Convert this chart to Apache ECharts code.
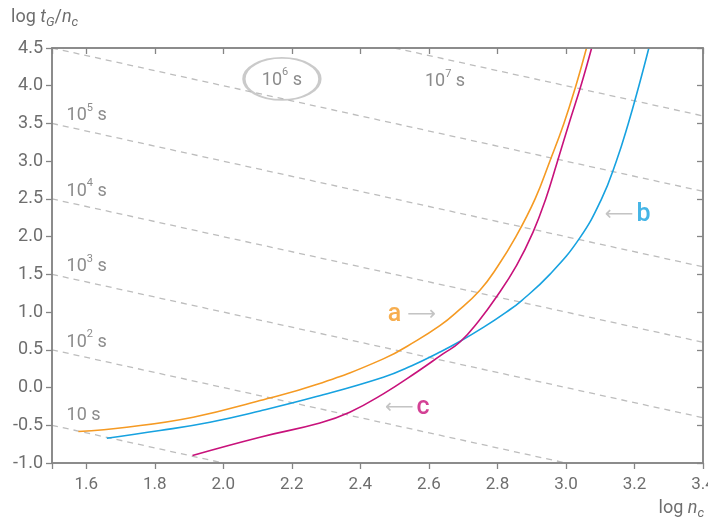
<!DOCTYPE html>
<html>
<head>
<meta charset="utf-8">
<script src="https://cdn.jsdelivr.net/npm/echarts@6/dist/echarts.min.js"></script>
<style>
html,body{margin:0;padding:0;background:#fff;}
#chart{width:708px;height:520px;}
</style>
</head>
<body>
<div id="chart"></div>
<script>
// ---- data ----
const xTickVals = [1.5, 1.6, 1.8, 2.0, 2.2, 2.4, 2.6, 2.8, 3.0, 3.2, 3.4];
const xLabelVals = [1.6, 1.8, 2.0, 2.2, 2.4, 2.6, 2.8, 3.0, 3.2, 3.4];

const curveA = [[1.577,-0.583],[1.718,-0.526],[1.912,-0.393],[2.107,-0.172],[2.272,0.04],[2.467,0.38],[2.564,0.622],[2.632,0.82],[2.681,1.0],[2.749,1.29],[2.80,1.60],[2.854,2.0],[2.91,2.5],[2.953,3.0],[2.994,3.5],[3.029,4.0],[3.060,4.5]];
const curveB = [[1.660,-0.671],[1.815,-0.570],[1.961,-0.459],[2.107,-0.31],[2.272,-0.12],[2.467,0.137],[2.55,0.29],[2.632,0.47],[2.690,0.61],[2.76,0.80],[2.826,1.0],[2.870,1.15],[2.953,1.5],[3.040,1.98],[3.104,2.5],[3.147,3.0],[3.182,3.5],[3.213,4.0],[3.242,4.5]];
const curveC = [[1.910,-0.90],[2.107,-0.658],[2.282,-0.47],[2.369,-0.327],[2.467,-0.084],[2.564,0.203],[2.641,0.446],[2.690,0.60],[2.745,0.88],[2.797,1.20],[2.856,1.62],[2.904,2.06],[2.941,2.5],[2.974,2.98],[3.009,3.5],[3.045,4.02],[3.075,4.5]];

// isochrone lines (t = 10 s ... 10^7 s), endpoints clipped to the frame
const iso10 = [[1.5,-0.5],[2.0,-1.0]];
const iso100 = [[1.5,0.5],[3.0,-1.0]];
const iso1e3 = [[1.5,1.5],[3.4,-0.4]];
const iso1e4 = [[1.5,2.5],[3.4,0.6]];
const iso1e5 = [[1.5,3.5],[3.4,1.6]];
const iso1e6 = [[1.5,4.5],[3.4,2.6]];
const iso1e7 = [[2.5,4.5],[3.4,3.6]];

// isochrone labels
const isoLabelBase = ['10', '10', '10', '10', '10', '10', '10'];
const isoLabelExp = ['', '2', '3', '4', '5', '6', '7'];
const isoLabelPos = [[1.541,-0.34],[1.541,0.63],[1.541,1.63],[1.541,2.63],[1.541,3.63],[2.171,4.10],[2.647,4.08]];
const ellipsePos = [[2.171, 4.09]];

// curve labels
const curveNames = ['a', 'b', 'c'];
const curveLabelPos = [[2.55, 0.97], [3.180, 2.29], [2.537, -0.265]];

// ---- styling ----
const cA = '#f59a23', cB = '#17a2e0', cC = '#c8127b';
const txt = '#6e6e6e';
const axisCol = '#858585';
const font = 'Roboto, "Liberation Sans", sans-serif';

function isoSeries(data) {
  return {
    type: 'line', data: data, symbol: 'none', silent: true, z: 1,
    lineStyle: { color: '#bdbdbd', width: 1.3, type: [6, 5] }
  };
}
function curveSeries(data, color) {
  return {
    type: 'line', data: data, symbol: 'none', smooth: 0.45, z: 3,
    lineStyle: { color: color, width: 1.6 }
  };
}

const isoLabelData = isoLabelPos.map((p, i) => ({
  value: p,
  label: {
    formatter: '{m|' + isoLabelBase[i] + '}' + (isoLabelExp[i] ? '{s|' + isoLabelExp[i] + '}' : '') + '{m| s}',
    position: i >= 5 ? 'inside' : 'right',
    distance: 0
  }
}));

const curveColors = [cA, cB, cC];
const curveLabelData = curveLabelPos.map((p, i) => ({
  value: p,
  label: {
    formatter: i === 0 ? '{l|' + curveNames[i] + '}{ar|⟶}' : '{ar|⟵}{l|' + curveNames[i] + '}',
    rich: {
      l: { fontFamily: font, fontSize: 25, fontWeight: 500, color: curveColors[i], verticalAlign: 'middle' },
      ar: { fontFamily: '"DejaVu Sans", sans-serif', fontSize: 20, color: '#b5b5b5', verticalAlign: 'middle',
            padding: i === 0 ? [0, 0, 0, 6] : [0, 3, 0, 0] }
    }
  }
}));

function axisLine() { return { show: true, onZero: false, lineStyle: { color: axisCol, width: 1.5 } }; }
function tickStyle() { return { color: axisCol, width: 1.3 }; }

const option = {
  animation: false,
  grid: { left: 52, right: 5, top: 48, bottom: 57, outerBoundsMode: 'none', containLabel: false,
          show: true, z: 6, borderColor: axisCol, borderWidth: 1.5, backgroundColor: 'transparent' },
  xAxis: [{
    type: 'value', min: 1.5, max: 3.4, position: 'bottom', z: 6,
    axisLine: axisLine(),
    axisTick: { show: true, customValues: xTickVals, length: 6, lineStyle: tickStyle() },
    axisLabel: { customValues: xLabelVals, formatter: v => v.toFixed(1), color: txt, fontSize: 17, fontFamily: font, margin: 13 },
    splitLine: { show: false }
  }, {
    type: 'value', min: 1.5, max: 3.4, position: 'top', z: 6,
    axisLine: axisLine(),
    axisTick: { show: true, inside: true, customValues: xTickVals, length: 6, lineStyle: tickStyle() },
    axisLabel: { show: false },
    splitLine: { show: false }
  }],
  yAxis: [{
    type: 'value', min: -1.0, max: 4.5, interval: 0.5, position: 'left', z: 6,
    axisLine: axisLine(),
    axisTick: { show: true, length: 6, lineStyle: tickStyle() },
    axisLabel: { formatter: v => v.toFixed(1), color: txt, fontSize: 18, fontFamily: font, margin: 9 },
    splitLine: { show: false }
  }, {
    type: 'value', min: -1.0, max: 4.5, interval: 0.5, position: 'right', z: 6,
    axisLine: axisLine(),
    axisTick: { show: true, inside: true, length: 6, lineStyle: tickStyle() },
    axisLabel: { show: false },
    splitLine: { show: false }
  }],
  series: [
    isoSeries(iso10), isoSeries(iso100), isoSeries(iso1e3), isoSeries(iso1e4),
    isoSeries(iso1e5), isoSeries(iso1e6), isoSeries(iso1e7),
    curveSeries(curveA, cA), curveSeries(curveB, cB), curveSeries(curveC, cC),
    {
      type: 'scatter', data: ellipsePos, silent: true, z: 2,
      symbol: 'path://M0,50 A50,50 0 1,1 100,50 A50,50 0 1,1 0,50 Z',
      symbolSize: [76, 42],
      itemStyle: { color: 'rgba(0,0,0,0)', borderColor: '#bdbdbd', borderWidth: 2.5 }
    },
    {
      type: 'scatter', data: isoLabelData, silent: true, z: 4,
      symbolSize: 1, itemStyle: { color: 'rgba(0,0,0,0)' },
      label: {
        show: true,
        rich: {
          m: { fontFamily: font, fontSize: 18, color: txt, padding: [4, 0, 0, 0], verticalAlign: 'top' },
          s: { fontFamily: font, fontSize: 11, color: txt, verticalAlign: 'top' }
        }
      }
    },
    {
      type: 'scatter', data: curveLabelData, silent: true, z: 4,
      symbolSize: 1, itemStyle: { color: 'rgba(0,0,0,0)' },
      label: { show: true, position: 'inside' }
    }
  ],
  graphic: [
    {
      type: 'text', left: 11, top: 8,
      style: {
        text: '{n|log }{i|t}{b|G}{n|/}{i|n}{b|c}',
        rich: {
          n: { fontFamily: font, fontSize: 18, fill: txt, verticalAlign: 'top' },
          i: { fontFamily: font, fontSize: 18, fontStyle: 'italic', fill: txt, verticalAlign: 'top' },
          b: { fontFamily: font, fontSize: 13, fontStyle: 'italic', fill: txt, verticalAlign: 'top', padding: [8, 0, 0, 0] }
        }
      }
    },
    {
      type: 'text', right: 4, bottom: 0,
      style: {
        text: '{n|log }{i|n}{b|c}',
        rich: {
          n: { fontFamily: font, fontSize: 18, fill: txt, verticalAlign: 'top' },
          i: { fontFamily: font, fontSize: 18, fontStyle: 'italic', fill: txt, verticalAlign: 'top' },
          b: { fontFamily: font, fontSize: 13, fontStyle: 'italic', fill: txt, verticalAlign: 'top', padding: [8, 0, 0, 0] }
        }
      }
    }
  ]
};

const chart = echarts.init(document.getElementById('chart'), null, { renderer: 'canvas' });
chart.setOption(option);
</script>
</body>
</html>
